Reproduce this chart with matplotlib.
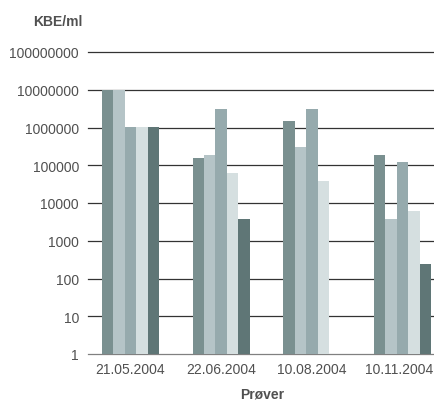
import numpy as np
import matplotlib
matplotlib.use("Agg")
import matplotlib.pyplot as plt
from matplotlib.transforms import ScaledTranslation

# data (KBE/ml, log scale)
dates = ["21.05.2004", "22.06.2004", "10.08.2004", "10.11.2004"]
s1 = [1.0e7, 155000, 1.5e6, 190000]
s2 = [1.0e7, 187000, 300000, 3800]
s3 = [1.0e6, 3.1e6, 3.1e6, 122000]
s4 = [1.0e6, 62000, 38000, 6100]
s5 = [1.0e6, 3800, np.nan, 240]
series = [s1, s2, s3, s4, s5]
colors = ["#7a9090", "#b5c4c7", "#96aaad", "#d5dfe0", "#5f7676"]
yticks = [1, 10, 100, 1000, 10000, 100000, 1000000, 10000000, 100000000]

plt.rcParams["font.family"] = ["Liberation Sans", "DejaVu Sans"]
TXT = "#505050"

fig = plt.figure(figsize=(4.35, 4.02), dpi=100)
ax = fig.add_axes([90/435, 47/402, 345/435, 302/402])

x = np.arange(len(dates))
w = 0.126
for i, (vals, c) in enumerate(zip(series, colors)):
    v = np.array(vals, dtype=float)
    ok = ~np.isnan(v)
    ax.bar(x[ok] + (i - 2)*w, v[ok], width=w, bottom=1, color=c, zorder=3, linewidth=0)

ax.set_yscale("log")
ax.set_ylim(1, 1e8)
ax.set_xlim(-0.447, 3.358)
ax.set_yticks(yticks)
ax.set_yticklabels([str(t) for t in yticks])
ax.yaxis.set_minor_locator(matplotlib.ticker.NullLocator())
ax.set_xticks(x)
ax.set_xticklabels(dates)
ax.tick_params(axis="both", length=0, labelsize=10, colors=TXT)
ax.tick_params(axis="y", pad=8)
ax.tick_params(axis="x", pad=6)
# last date label sits right at the edge; nudge it in so it stays whole
last = ax.get_xticklabels()[-1]
last.set_transform(last.get_transform() + ScaledTranslation(-3/100, 0, fig.dpi_scale_trans))
for sp in ax.spines.values():
    sp.set_visible(False)
for t in yticks:
    col = "#808080" if t == 1 else "#333333"
    ax.axhline(t, color=col, lw=0.9, zorder=1, clip_on=False, xmin=-0.006)

ax.set_xlabel("Prøver", fontsize=10, fontweight="bold", color=TXT, labelpad=7)
fig.text(83/435, 1 - 22/402, "KBE/ml", ha="right", va="center", fontsize=10,
         fontweight="bold", color=TXT)

fig.savefig("out.png", dpi=100)
